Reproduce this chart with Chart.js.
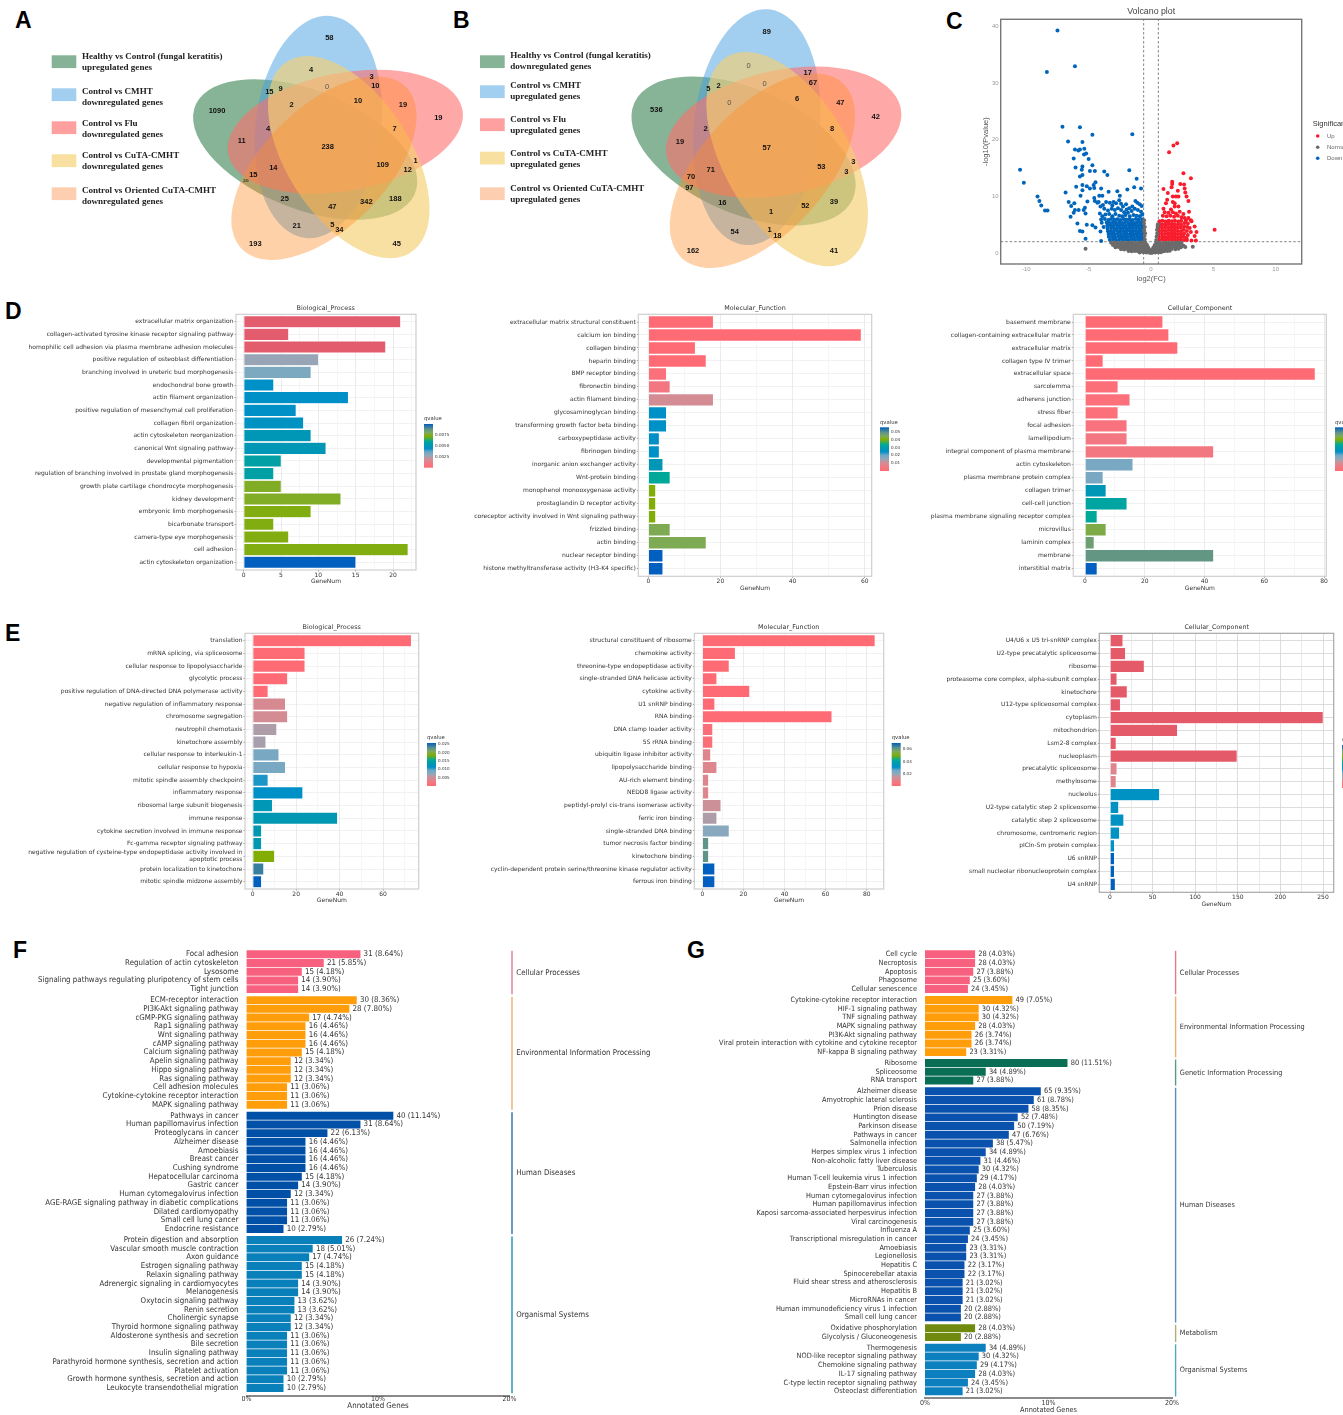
<!DOCTYPE html>
<html>
<head>
<meta charset="utf-8">
<title>Transcriptome figure</title>
<script src="https://cdn.jsdelivr.net/npm/chart.js@4"></script>
<style>
  html, body { margin: 0; background: #fff; }
  #page { position: relative; width: 1343px; height: 1415px; overflow: hidden; }
  #page canvas { position: absolute; }
  .letter { position: absolute; font: bold 23px "Liberation Sans", sans-serif; line-height: 1; color: #000; }
</style>
</head>
<body>
<div id="page">
  <div class="letter" style="left:15px;top:9px">A</div>
  <div class="letter" style="left:453px;top:9px">B</div>
  <div class="letter" style="left:946px;top:10px">C</div>
  <div class="letter" style="left:5px;top:300px">D</div>
  <div class="letter" style="left:5px;top:622px">E</div>
  <div class="letter" style="left:13px;top:939px">F</div>
  <div class="letter" style="left:687px;top:939px">G</div>
</div>
<script>
// Venn panels
const vennAItems = ["Healthy vs Control (fungal keratitis)|upregulated genes", "Control vs CMHT|downregulated genes", "Control vs Flu|downregulated genes", "Control vs CuTA-CMHT|downregulated genes", "Control vs Oriented CuTA-CMHT|downregulated genes"];
const vennBItems = ["Healthy vs Control (fungal keratitis)|downregulated genes", "Control vs CMHT|upregulated genes", "Control vs Flu|upregulated genes", "Control vs CuTA-CMHT|upregulated genes", "Control vs Oriented CuTA-CMHT|upregulated genes"];
const vennACounts = [58, 4, 3, 0, 10, 15, 9, 1090, 2, 10, 19, 19, 4, 7, 11, 238, 109, 1, 12, 14, 15, 231, 25, 47, 342, 188, 21, 5, 34, 193, 45];
const vennBCounts = [89, 0, 17, 67, 0, 5, 2, 536, 0, 6, 47, 42, 2, 8, 19, 57, 53, 3, 3, 71, 70, 97, 16, 1, 52, 39, 54, 1, 18, 162, 41];

// Volcano panel: [log2(FC), -log10(Pvalue)]
const volcanoDown = [
  [-7.5,39.3],[-6.1,33],[-8.35,32],[-7.1,22.3],[-5.7,22.2],[-4.7,20.9],[-1.5,21],[-6.65,19.7],[-5.5,19.6],[-6.1,18.3],[-5.83,18.1],[-5.7,18.3],[-5.35,18.4],[-5.2,17.6],[-5.37,17.4],[-5,16.6],[-6.2,16.7],
  [-4.7,15.5],[-5.5,15.3],[-6.05,15.1],[-5.55,14.7],[-4.9,14.5],[-4.5,14.5],[-3.75,14.4],[-3.5,13.8],[-1.74,14.6],[-1.15,13.1],[-5.5,13.8],[-5.7,13.5],[-10.5,14.7],[-10.2,12.4],
  [-9.1,10],[-8.95,9.2],[-8.8,8.4],[-8.5,7.5],[-8.3,7.5],[-6.85,10.7],[-6.6,9],[-6.4,8.3],[-6.15,8.8],[-6.1,7.6],[-6.2,7.1],[-5.8,7.6],[-6.45,6.4],[-5.9,5.2],[-5.7,3.9],[-5.5,3.8],[-5.25,2.5],
  [-6,11.7],[-5.5,12],[-5.65,10.1],[-5.15,11.8],[-5.5,11.1],[-4.45,12.5],[-4.6,12],[-4.9,11.4],[-4.55,11.5],[-4,11.4],[-3.4,10.8],[-3.9,10.1],[-4.15,10.1],[-2.7,10.9],[-2.5,10.1],[-1.9,11.2],[-1.35,11.6],[-0.8,11.4],
  [-4.55,9.7],[-4.5,9.2],[-5.1,9.1],[-4.2,9],[-5.3,8],[-5.4,7.6],[-5.25,7],[-5.15,5],[-4.7,4.9],[-4.45,4.5],[-4,2.1],[-4.05,3.8],[-3.8,4.6],
  [-4.3,8.9],[-4.05,8.2],[-3.85,8.5],[-3.6,9],[-3.3,8.9],[-3.1,8.4],[-3,9],[-2.8,8.8],[-2.55,9.3],[-2.4,8.7],[-2.25,8.2],[-2,8.6],[-1.95,7.7],[-1.25,9.2],[-1.1,8.9],[-0.9,8.6],[-0.75,8.3],[-1.5,8.2],[-1.75,7.9],
  [-3.75,7.8],[-3.45,7.5],[-3.15,7.8],[-2.9,7.6],[-2.65,7.9],[-2.4,7.6],[-2.15,7.2],[-1.85,7.1],[-1.55,7.4],[-1.3,7.8],[-1.05,7.6],[-0.8,7.3],[-4.1,7],[-3.9,6.5],[-3.65,6.8],[-3.35,6.9],[-3.1,6.5],[-2.85,6.9],[-2.55,6.6],[-2.3,6.5],[-2.05,6.7],[-1.7,6.5],[-1.4,6.7],[-1.15,6.6],[-0.9,6.5],[-0.7,6.8],
  [-4,5.9],[-3.7,6],[-3.42,5.85],[-3.2,6],[-2.95,5.9],[-2.7,5.95],[-2.45,5.85],[-2.2,6],[-1.98,5.9],[-1.72,5.95],[-1.48,5.85],[-1.22,6],[-0.98,5.9],[-0.72,5.95],
  [-3.95,5.35],[-3.55,5.4],[-3.3,5.3],[-3.05,5.45],[-2.82,5.35],[-2.55,5.4],[-2.32,5.3],[-2.08,5.45],[-1.83,5.35],[-1.58,5.4],[-1.33,5.3],[-1.1,5.45],[-0.85,5.35],[-0.66,5.4],
  [-3.5,4.85],[-3.25,4.9],[-3,4.8],[-2.75,4.95],[-2.5,4.85],[-2.25,4.9],[-2,4.8],[-1.75,4.95],[-1.5,4.85],[-1.25,4.9],[-1,4.8],[-0.78,4.95],[-0.64,4.85],
  [-3.48,4.35],[-3.2,4.4],[-2.95,4.3],[-2.7,4.45],[-2.45,4.35],[-2.2,4.4],[-1.95,4.3],[-1.7,4.45],[-1.45,4.35],[-1.2,4.4],[-0.95,4.3],[-0.72,4.4],
  [-3.45,3.85],[-3.22,3.9],[-2.98,3.8],[-2.72,3.95],[-2.48,3.85],[-2.22,3.9],[-1.98,3.8],[-1.72,3.95],[-1.48,3.85],[-1.22,3.9],[-0.98,3.8],[-0.74,3.9],
  [-3.4,3.35],[-3.15,3.4],[-2.9,3.3],[-2.65,3.45],[-2.4,3.35],[-2.15,3.4],[-1.9,3.3],[-1.65,3.45],[-1.4,3.35],[-1.15,3.4],[-0.9,3.3],[-0.68,3.4],
  [-3.38,2.85],[-3.12,2.9],[-2.87,2.8],[-2.62,2.95],[-2.37,2.85],[-2.12,2.9],[-1.87,2.8],[-1.62,2.95],[-1.37,2.85],[-1.12,2.9],[-0.87,2.8],[-0.66,2.9],
  [-3.3,2.35],[-3.05,2.4],[-2.8,2.3],[-2.55,2.45],[-2.3,2.35],[-2.05,2.4],[-1.8,2.3],[-1.55,2.45],[-1.3,2.35],[-1.05,2.4],[-0.8,2.3],[-0.64,2.4]
];
const volcanoUp = [
  [2.1,19.4],[1.8,19],[1.45,17.8],[2.6,14.1],[3.2,13.2],[2.65,12.1],[1.7,12.6],[1.7,12.2],[2.35,12.2],[1,11.3],[2.7,11.4],[1.65,11.6],[2.15,11],[1.35,10.6],[2.75,10.7],[2.85,10],[1.75,10],[2,10],[2.2,10],[1.3,9.4],[3,9.2],[1.2,8.8],[1.75,9],[1.9,8.8],[1,7.8],[2.2,8.2],[1.6,7.7],[1.9,8.2],[2.3,7.3],[3.05,7.3],
  [3,6.2],[3.25,5.6],[3.5,4.7],[3.65,3.7],[3.5,3],[3.6,2.2],[3.25,2.2],[5.1,4.1],[2.8,5.8],[3.2,5.8],[1.1,7.2],[1.4,7.1],[1.75,7.2],[2,7],[2.6,6.9],[0.95,6.6],[1.25,6.5],[1.55,6.6],[1.85,6.4],[2.15,6.6],[2.45,6.3],[2.7,6.2],
  [0.68,5.6],[0.92,5.7],[1.18,5.55],[1.42,5.7],[1.68,5.6],[1.92,5.7],[2.18,5.55],[2.42,5.7],[2.68,5.3],[2.95,5.2],
  [0.66,5.05],[0.9,5.1],[1.15,5],[1.4,5.15],[1.65,5.05],[1.9,5.1],[2.15,5],[2.4,5.1],[2.65,4.7],[2.9,4.6],[3.1,4.4],
  [0.64,4.5],[0.88,4.55],[1.13,4.45],[1.38,4.6],[1.63,4.5],[1.88,4.55],[2.13,4.45],[2.38,4.5],[2.62,4.1],[2.88,3.9],[3.2,3.7],
  [0.65,3.95],[0.9,4],[1.15,3.9],[1.4,4.05],[1.65,3.95],[1.9,4],[2.15,3.9],[2.4,3.85],[2.65,3.45],[2.95,3.2],
  [0.63,3.4],[0.88,3.45],[1.13,3.35],[1.38,3.5],[1.63,3.4],[1.88,3.45],[2.13,3.35],[2.38,3.3],[2.62,2.9],[2.85,2.65],
  [0.64,2.85],[0.9,2.9],[1.15,2.8],[1.4,2.95],[1.65,2.85],[1.9,2.9],[2.15,2.8],[2.4,2.8],
  [0.66,2.35],[0.9,2.4],[1.15,2.3],[1.4,2.45],[1.65,2.35],[1.9,2.4],[2.15,2.3],[2.4,2.35],[2.65,2.3],[2.88,2.3]
];
const volcanoNormal = [
  [-5.25,0.75],[3.35,1.1],
  [-3.2,1.8],[-2.95,1.85],[-2.7,1.75],[-2.45,1.8],[-2.2,1.85],[-1.95,1.75],[-1.7,1.8],[-1.45,1.85],[-1.2,1.75],[-0.95,1.8],[-0.7,1.85],[-0.45,1.8],[0.42,1.8],[0.7,1.85],[0.95,1.75],[1.2,1.8],[1.45,1.85],[1.7,1.75],[1.95,1.8],[2.2,1.85],[2.45,1.75],
  [-3.05,1.4],[-2.8,1.35],[-2.55,1.45],[-2.3,1.4],[-2.05,1.35],[-1.8,1.45],[-1.55,1.4],[-1.3,1.35],[-1.05,1.45],[-0.8,1.4],[-0.55,1.35],[-0.32,1.4],[0.3,1.4],[0.55,1.45],[0.8,1.35],[1.05,1.4],[1.3,1.45],[1.55,1.35],[1.8,1.4],[2.05,1.45],[2.3,1.35],[2.6,1.3],
  [-2.85,1],[-2.6,1.05],[-2.35,0.95],[-2.1,1],[-1.85,1.05],[-1.6,0.95],[-1.35,1],[-1.1,1.05],[-0.85,0.95],[-0.6,1],[-0.38,1.05],[-0.22,0.95],[0.2,1],[0.4,1.05],[0.65,0.95],[0.9,1],[1.15,1.05],[1.4,0.95],[1.65,1],[1.9,1.05],[2.15,0.95],[2.4,1],[2.75,1.05],
  [-2.4,0.65],[-2.15,0.6],[-1.9,0.7],[-1.65,0.6],[-1.4,0.65],[-1.15,0.6],[-0.9,0.7],[-0.65,0.6],[-0.4,0.65],[-0.14,0.6],[0.14,0.65],[0.4,0.6],[0.65,0.7],[0.9,0.6],[1.15,0.65],[1.4,0.6],[1.65,0.7],[1.95,0.65],[2.2,0.75],
  [-1.8,0.35],[-1.55,0.3],[-1.3,0.35],[-1.05,0.3],[-0.8,0.35],[-0.55,0.3],[-0.3,0.35],[-0.08,0.3],[0.08,0.3],[0.3,0.35],[0.55,0.3],[0.8,0.35],[1.05,0.3],[1.3,0.35],[1.5,0.4],
  [-0.9,0.1],[-0.6,0.12],[-0.35,0.08],[-0.1,0.05],[0,0.03],[0.1,0.05],[0.35,0.08],[0.6,0.12],[0.8,0.15],
  [-0.5,2.4],[-0.52,3],[-0.48,3.5],[-0.55,4],[-0.5,4.6],[-0.57,5.2],[-0.55,5.8],[0.42,2.3],[0.45,2.9],[0.5,3.5],[0.48,4.1],[0.53,4.7],[0.55,5.1]
];
const volcanoXTicks = [-10, -5, 0, 5, 10];
const volcanoYTicks = [0, 10, 20, 30, 40];

// GO panel D, qvalue is the position on the colour bar (0 bottom, 1 top)
const dBpLabels = ["extracellular matrix organization", "collagen-activated tyrosine kinase receptor signaling pathway", "homophilic cell adhesion via plasma membrane adhesion molecules", "positive regulation of osteoblast differentiation", "branching involved in ureteric bud morphogenesis", "endochondral bone growth", "actin filament organization", "positive regulation of mesenchymal cell proliferation", "collagen fibril organization", "actin cytoskeleton reorganization", "canonical Wnt signaling pathway", "developmental pigmentation", "regulation of branching involved in prostate gland morphogenesis", "growth plate cartilage chondrocyte morphogenesis", "kidney development", "embryonic limb morphogenesis", "bicarbonate transport", "camera-type eye morphogenesis", "cell adhesion", "actin cytoskeleton organization"];
const dBpValues = [21, 6, 19, 10, 9, 4, 14, 7, 8, 9, 11, 5, 4, 5, 13, 9, 4, 6, 22, 15];
const dBpQ = [0, 0, 0, 0.27, 0.33, 0.44, 0.44, 0.44, 0.46, 0.5, 0.5, 0.56, 0.56, 0.75, 0.75, 0.73, 0.73, 0.73, 0.73, 1];
const dMfLabels = ["extracellular matrix structural constituent", "calcium ion binding", "collagen binding", "heparin binding", "BMP receptor binding", "fibronectin binding", "actin filament binding", "glycosaminoglycan binding", "transforming growth factor beta binding", "carboxypeptidase activity", "fibrinogen binding", "inorganic anion exchanger activity", "Wnt-protein binding", "monophenol monooxygenase activity", "prostaglandin D receptor activity", "coreceptor activity involved in Wnt signaling pathway", "frizzled binding", "actin binding", "nuclear receptor binding", "histone methyltransferase activity (H3-K4 specific)"];
const dMfValues = [18, 59, 13, 16, 5, 6, 18, 5, 5, 3, 3, 4, 6, 2, 2, 2, 6, 16, 4, 4];
const dMfQ = [0, 0, 0, 0, 0.03, 0.08, 0.18, 0.44, 0.44, 0.44, 0.44, 0.5, 0.6, 0.72, 0.72, 0.72, 0.79, 0.79, 1, 1];
const dCcLabels = ["basement membrane", "collagen-containing extracellular matrix", "extracellular matrix", "collagen type IV trimer", "extracellular space", "sarcolemma", "adherens junction", "stress fiber", "focal adhesion", "lamellipodium", "integral component of plasma membrane", "actin cytoskeleton", "plasma membrane protein complex", "collagen trimer", "cell-cell junction", "plasma membrane signaling receptor complex", "microvillus", "laminin complex", "membrane", "interstitial matrix"];
const dCcValues = [26, 28, 31, 6, 77, 11, 15, 11, 14, 14, 43, 16, 6, 7, 14, 4, 7, 3, 43, 4];
const dCcQ = [0, 0, 0, 0, 0, 0.02, 0.03, 0.03, 0.05, 0.08, 0.08, 0.34, 0.34, 0.5, 0.58, 0.6, 0.78, 0.84, 0.87, 1];

// GO panel E
const eBpLabels = ["translation", "mRNA splicing, via spliceosome", "cellular response to lipopolysaccharide", "glycolytic process", "positive regulation of DNA-directed DNA polymerase activity", "negative regulation of inflammatory response", "chromosome segregation", "neutrophil chemotaxis", "kinetochore assembly", "cellular response to interleukin-1", "cellular response to hypoxia", "mitotic spindle assembly checkpoint", "inflammatory response", "ribosomal large subunit biogenesis", "immune response", "cytokine secretion involved in immune response", "Fc-gamma receptor signaling pathway", ["negative regulation of cysteine-type endopeptidase activity involved in", "apoptotic process"], "protein localization to kinetochore", "mitotic spindle midzone assembly"];
const eBpValues = [73, 24, 24, 16, 7, 15, 16, 11, 6, 12, 15, 7, 23, 9, 39, 4, 4, 10, 5, 4];
const eBpQ = [0, 0, 0, 0, 0, 0.17, 0.18, 0.24, 0.25, 0.34, 0.34, 0.42, 0.44, 0.5, 0.51, 0.52, 0.52, 0.72, 0.93, 1];
const eMfLabels = ["structural constituent of ribosome", "chemokine activity", "threonine-type endopeptidase activity", "single-stranded DNA helicase activity", "cytokine activity", "U1 snRNP binding", "RNA binding", "DNA clamp loader activity", "5S rRNA binding", "ubiquitin ligase inhibitor activity", "lipopolysaccharide binding", "AU-rich element binding", "NEDD8 ligase activity", "peptidyl-prolyl cis-trans isomerase activity", "ferric iron binding", "single-stranded DNA binding", "tumor necrosis factor binding", "kinetochore binding", "cyclin-dependent protein serine/threonine kinase regulator activity", "ferrous iron binding"];
const eMfValues = [84, 16, 13, 7, 23, 6, 63, 5, 5, 4, 7, 3, 3, 9, 7, 13, 3, 3, 6, 6];
const eMfQ = [0, 0, 0, 0, 0, 0, 0, 0.02, 0.02, 0.15, 0.15, 0.15, 0.15, 0.2, 0.24, 0.3, 0.88, 0.88, 1, 1];
const eCcLabels = ["U4/U6 x U5 tri-snRNP complex", "U2-type precatalytic spliceosome", "ribosome", "proteasome core complex, alpha-subunit complex", "kinetochore", "U12-type spliceosomal complex", "cytoplasm", "mitochondrion", "Lsm2-8 complex", "nucleoplasm", "precatalytic spliceosome", "methylosome", "nucleolus", "U2-type catalytic step 2 spliceosome", "catalytic step 2 spliceosome", "chromosome, centromeric region", "pICln-Sm protein complex", "U6 snRNP", "small nucleolar ribonucleoprotein complex", "U4 snRNP"];
const eCcValues = [15, 18, 40, 8, 20, 12, 250, 79, 7, 149, 8, 7, 58, 10, 16, 11, 5, 5, 5, 6];
const eCcQ = [0, 0, 0, 0, 0, 0, 0, 0, 0, 0, 0.15, 0.15, 0.46, 0.46, 0.46, 0.46, 0.45, 1, 1, 1];

// KEGG panel F
const fGroups = ["Cellular Processes", "Environmental Information Processing", "Human Diseases", "Organismal Systems"];
const fGroupSizes = [5, 13, 14, 18];
const fLabels = ["Focal adhesion", "Regulation of actin cytoskeleton", "Lysosome", "Signaling pathways regulating pluripotency of stem cells", "Tight junction",
  "ECM-receptor interaction", "PI3K-Akt signaling pathway", "cGMP-PKG signaling pathway", "Rap1 signaling pathway", "Wnt signaling pathway", "cAMP signaling pathway", "Calcium signaling pathway", "Apelin signaling pathway", "Hippo signaling pathway", "Ras signaling pathway", "Cell adhesion molecules", "Cytokine-cytokine receptor interaction", "MAPK signaling pathway",
  "Pathways in cancer", "Human papillomavirus infection", "Proteoglycans in cancer", "Alzheimer disease", "Amoebiasis", "Breast cancer", "Cushing syndrome", "Hepatocellular carcinoma", "Gastric cancer", "Human cytomegalovirus infection", "AGE-RAGE signaling pathway in diabetic complications", "Dilated cardiomyopathy", "Small cell lung cancer", "Endocrine resistance",
  "Protein digestion and absorption", "Vascular smooth muscle contraction", "Axon guidance", "Estrogen signaling pathway", "Relaxin signaling pathway", "Adrenergic signaling in cardiomyocytes", "Melanogenesis", "Oxytocin signaling pathway", "Renin secretion", "Cholinergic synapse", "Thyroid hormone signaling pathway", "Aldosterone synthesis and secretion", "Bile secretion", "Insulin signaling pathway", "Parathyroid hormone synthesis, secretion and action", "Platelet activation", "Growth hormone synthesis, secretion and action", "Leukocyte transendothelial migration"];
const fCounts = [31, 21, 15, 14, 14, 30, 28, 17, 16, 16, 16, 15, 12, 12, 12, 11, 11, 11, 40, 31, 22, 16, 16, 16, 16, 15, 14, 12, 11, 11, 11, 10, 26, 18, 17, 15, 15, 14, 14, 13, 13, 12, 12, 11, 11, 11, 11, 11, 10, 10];
const fPercents = [8.64, 5.85, 4.18, 3.90, 3.90, 8.36, 7.80, 4.74, 4.46, 4.46, 4.46, 4.18, 3.34, 3.34, 3.34, 3.06, 3.06, 3.06, 11.14, 8.64, 6.13, 4.46, 4.46, 4.46, 4.46, 4.18, 3.90, 3.34, 3.06, 3.06, 3.06, 2.79, 7.24, 5.01, 4.74, 4.18, 4.18, 3.90, 3.90, 3.62, 3.62, 3.34, 3.34, 3.06, 3.06, 3.06, 3.06, 3.06, 2.79, 2.79];

// KEGG panel G
const gGroups = ["Cellular Processes", "Environmental Information Processing", "Genetic Information Processing", "Human Diseases", "Metabolism", "Organismal Systems"];
const gGroupSizes = [5, 7, 3, 27, 2, 6];
const gLabels = ["Cell cycle", "Necroptosis", "Apoptosis", "Phagosome", "Cellular senescence",
  "Cytokine-cytokine receptor interaction", "HIF-1 signaling pathway", "TNF signaling pathway", "MAPK signaling pathway", "PI3K-Akt signaling pathway", "Viral protein interaction with cytokine and cytokine receptor", "NF-kappa B signaling pathway",
  "Ribosome", "Spliceosome", "RNA transport",
  "Alzheimer disease", "Amyotrophic lateral sclerosis", "Prion disease", "Huntington disease", "Parkinson disease", "Pathways in cancer", "Salmonella infection", "Herpes simplex virus 1 infection", "Non-alcoholic fatty liver disease", "Tuberculosis", "Human T-cell leukemia virus 1 infection", "Epstein-Barr virus infection", "Human cytomegalovirus infection", "Human papillomavirus infection", "Kaposi sarcoma-associated herpesvirus infection", "Viral carcinogenesis", "Influenza A", "Transcriptional misregulation in cancer", "Amoebiasis", "Legionellosis", "Hepatitis C", "Spinocerebellar ataxia", "Fluid shear stress and atherosclerosis", "Hepatitis B", "MicroRNAs in cancer", "Human immunodeficiency virus 1 infection", "Small cell lung cancer",
  "Oxidative phosphorylation", "Glycolysis / Gluconeogenesis",
  "Thermogenesis", "NOD-like receptor signaling pathway", "Chemokine signaling pathway", "IL-17 signaling pathway", "C-type lectin receptor signaling pathway", "Osteoclast differentiation"];
const gCounts = [28, 28, 27, 25, 24, 49, 30, 30, 28, 26, 26, 23, 80, 34, 27, 65, 61, 58, 52, 50, 47, 38, 34, 31, 30, 29, 28, 27, 27, 27, 27, 25, 24, 23, 23, 22, 22, 21, 21, 21, 20, 20, 28, 20, 34, 30, 29, 28, 24, 21];
const gPercents = [4.03, 4.03, 3.88, 3.60, 3.45, 7.05, 4.32, 4.32, 4.03, 3.74, 3.74, 3.31, 11.51, 4.89, 3.88, 9.35, 8.78, 8.35, 7.48, 7.19, 6.76, 5.47, 4.89, 4.46, 4.32, 4.17, 4.03, 3.88, 3.88, 3.88, 3.88, 3.60, 3.45, 3.31, 3.31, 3.17, 3.17, 3.02, 3.02, 3.02, 2.88, 2.88, 4.03, 2.88, 4.89, 4.32, 4.17, 4.03, 3.45, 3.02];

const DEJAVU = "'DejaVu Sans'";
const NARROW = "'DejaVu Sans Condensed','DejaVu Sans'";
const page = document.getElementById("page");
Chart.defaults.animation = false;
Chart.defaults.responsive = false;
Chart.defaults.devicePixelRatio = 1;
Chart.defaults.plugins.legend.display = false;
Chart.defaults.plugins.tooltip.enabled = false;

function addCanvas(x, y, w, h) {
  const c = document.createElement("canvas");
  c.width = w;
  c.height = h;
  c.style.left = x + "px";
  c.style.top = y + "px";
  c.style.width = w + "px";
  c.style.height = h + "px";
  page.appendChild(c);
  return c.getContext("2d");
}

function drawText(ctx, text, x, y, font, color, align = "left") {
  ctx.font = font;
  ctx.fillStyle = color;
  ctx.textAlign = align;
  ctx.textBaseline = "middle";
  ctx.fillText(text, x, y);
}

// Colour bar used by the GO panels
const qvalueStops = [[0, "#ff6b75"], [0.1, "#f07a84"], [0.2, "#cc9098"], [0.28, "#90a8ba"], [0.36, "#70a8c4"], [0.44, "#0090c8"], [0.52, "#0098b0"], [0.6, "#00a89a"], [0.72, "#82ad05"], [0.8, "#7caa5e"], [0.88, "#5f9488"], [1, "#005fbf"]];

function hexToRgb(hex) {
  return [1, 3, 5].map(i => parseInt(hex.slice(i, i + 2), 16));
}

function qColor(t, low) {
  const stops = qvalueStops.map((s, i) => (i === 0 && low ? [0, low] : s));
  let i = 0;
  while (i < stops.length - 2 && t > stops[i + 1][0]) i++;
  const f = (t - stops[i][0]) / (stops[i + 1][0] - stops[i][0]);
  const a = hexToRgb(stops[i][1]);
  const b = hexToRgb(stops[i + 1][1]);
  return `rgb(${a.map((v, k) => Math.round(v + (b[k] - v) * f)).join(",")})`;
}

function createGoChart(cfg) {
  const [left, right] = cfg.canvasX;
  const [boxL, boxT, boxR, boxB] = cfg.box;
  const top = Math.floor(boxT - 14);
  const bottom = Math.ceil(cfg.xLabelY + 3.6);
  const rowPitch = (cfg.rows[1] - cfg.rows[0]) / (cfg.values.length - 1);
  const unit = (cfg.xAt[1] - cfg.xAt[0]) / cfg.xAt[2];
  const ticks = [];
  for (let v = 0; v <= (boxR - cfg.xAt[0]) / unit; v += cfg.step / 2) ticks.push(v);

  const frame = {
    id: "frame",
    afterDraw(chart) {
      const { ctx, chartArea: a } = chart;
      ctx.save();
      ctx.strokeStyle = cfg.boxColor || "#cfcfcf";
      ctx.lineWidth = 1.2;
      ctx.strokeRect(a.left, a.top, a.right - a.left, a.bottom - a.top);
      drawText(ctx, cfg.title, cfg.titleX - left, boxT - 6.2 - top, `6.4px ${DEJAVU}`, "#333", "center");
      const lg = cfg.legend;
      const gx = lg.x - left;
      const grad = ctx.createLinearGradient(0, lg.y[0] - top, 0, lg.y[1] - top);
      qvalueStops.forEach(s => grad.addColorStop(1 - s[0], s[1]));
      ctx.fillStyle = grad;
      ctx.fillRect(gx, lg.y[0] - top, 9, lg.y[1] - lg.y[0]);
      drawText(ctx, "qvalue", gx, lg.y[0] - 5 - top, `5.3px ${DEJAVU}`, "#333");
      lg.labels.forEach((t, i) => drawText(ctx, t, gx + 11, lg.labelY[i] - top, `4.1px ${DEJAVU}`, "#333"));
      ctx.restore();
    }
  };

  return new Chart(addCanvas(left, top, right - left, bottom - top), {
    type: "bar",
    data: {
      datasets: [{
        data: cfg.values.map((v, i) => ({ x: v, y: i })),
        backgroundColor: cfg.qvalue.map(t => qColor(t, cfg.low)),
        borderColor: "rgba(255,255,255,0.7)",
        borderWidth: 0.6,
        borderSkipped: false,
        barThickness: rowPitch * 0.92
      }]
    },
    options: {
      indexAxis: "y",
      layout: { padding: { top: boxT - top, right: right - boxR } },
      scales: {
        y: {
          type: "linear",
          reverse: true,
          offset: false,
          bounds: "data",
          min: (boxT - cfg.rows[0]) / rowPitch,
          max: (boxB - cfg.rows[0]) / rowPitch,
          afterBuildTicks: s => { s.ticks = cfg.labels.map((_, i) => ({ value: i })); },
          afterFit: s => { s.width = boxL - left; },
          grid: { offset: false, color: cfg.gridColor || "#efefef", lineWidth: 0.8, tickColor: "#555", tickLength: 1.5, tickWidth: 0.6 },
          border: { display: false },
          ticks: { autoSkip: false, padding: 1, color: "#333", font: { family: DEJAVU, size: 6 }, callback: (v, i) => cfg.labels[i] }
        },
        x: {
          type: "linear",
          bounds: "data",
          min: (boxL - cfg.xAt[0]) / unit,
          max: (boxR - cfg.xAt[0]) / unit,
          afterBuildTicks: s => { s.ticks = ticks.map(v => ({ value: v })); },
          afterFit: s => { s.height = bottom - boxB; },
          grid: {
            color: c => (c.tick && c.tick.value % cfg.step === 0 ? (cfg.gridColor || "#e6e6e6") : (cfg.minorColor || "#f4f4f4")),
            tickColor: c => (c.tick && c.tick.value % cfg.step === 0 ? "#555" : "transparent"),
            lineWidth: 0.8, tickLength: 1.5, tickWidth: 0.6
          },
          border: { display: false },
          title: { display: true, text: "GeneNum", color: "#333", font: { family: DEJAVU, size: 6 }, padding: { top: 0, bottom: bottom - cfg.xLabelY - 3.6 } },
          ticks: { autoSkip: false, maxRotation: 0, padding: 0.5, color: "#333", font: { family: DEJAVU, size: 6 }, callback: v => (v % cfg.step === 0 ? v : "") }
        }
      }
    },
    plugins: [frame]
  });
}

function createKeggChart(cfg) {
  const [left, right] = cfg.canvasX;
  const plotTop = cfg.rows[0] - 8;
  const top = Math.floor(plotTop - 16);
  const bottom = 1415;
  let g = 0;
  let seen = 0;
  const rowGroup = cfg.labels.map(() => {
    if (seen === cfg.groupSizes[g]) { g++; seen = 0; }
    seen++;
    return g;
  });
  const rowPos = rowGroup.map((grp, i) => i + grp * cfg.gap);
  const unit = (cfg.rows[1] - cfg.rows[0]) / rowPos[rowPos.length - 1];

  const extras = {
    id: "extras",
    afterDatasetsDraw(chart) {
      const { ctx, scales: { y } } = chart;
      const meta = chart.getDatasetMeta(0);
      ctx.save();
      meta.data.forEach((bar, i) => {
        drawText(ctx, `${cfg.counts[i]} (${cfg.percents[i].toFixed(2)}%)`, bar.x + 3.5, bar.y, `${cfg.valueSize}px ${NARROW}`, "#333");
      });
      let first = 0;
      cfg.groups.forEach((name, k) => {
        const last = first + cfg.groupSizes[k] - 1;
        const y0 = y.getPixelForValue(rowPos[first]) - 3.5;
        const y1 = y.getPixelForValue(rowPos[last]) + 5.2;
        ctx.strokeStyle = cfg.bracketColors[k];
        ctx.lineWidth = 1.4;
        ctx.beginPath();
        ctx.moveTo(cfg.bracketX - left, y0);
        ctx.lineTo(cfg.bracketX - left, y1);
        ctx.stroke();
        drawText(ctx, name, cfg.bracketX + 4.2 - left, (y.getPixelForValue(rowPos[first]) + y.getPixelForValue(rowPos[last])) / 2 + 1, `${cfg.fontSize}px ${NARROW}`, "#333");
        first = last + 1;
      });
      ctx.restore();
    }
  };

  return new Chart(addCanvas(left, top, right - left, bottom - top), {
    type: "bar",
    data: {
      datasets: [{
        data: cfg.percents.map((v, i) => ({ x: v, y: rowPos[i] })),
        backgroundColor: rowGroup.map(k => cfg.barColors[k]),
        borderWidth: 0,
        barThickness: 7.3
      }]
    },
    options: {
      indexAxis: "y",
      layout: { padding: { top: plotTop - top, right: right - cfg.x20 } },
      scales: {
        y: {
          type: "linear",
          reverse: true,
          offset: false,
          bounds: "data",
          min: (plotTop - cfg.rows[0]) / unit,
          max: (cfg.axisY - cfg.rows[0]) / unit,
          afterBuildTicks: s => { s.ticks = rowPos.map(v => ({ value: v })); },
          afterFit: s => { s.width = cfg.x0 - left; },
          grid: { display: false, drawTicks: false, offset: false },
          border: { display: false },
          ticks: { autoSkip: false, padding: 8, color: "#333", font: { family: NARROW, size: cfg.fontSize }, callback: (v, i) => cfg.labels[i] }
        },
        x: {
          type: "linear",
          bounds: "data",
          min: 0,
          max: 20,
          afterBuildTicks: s => { s.ticks = [0, 10, 20].map(v => ({ value: v })); },
          afterFit: s => { s.height = bottom - cfg.axisY; },
          grid: { display: false, drawTicks: false },
          border: { display: true, color: "#8a8a8a", width: 2 },
          title: { display: true, text: "Annotated Genes", color: "#333", font: { family: NARROW, size: cfg.fontSize }, padding: { top: 0, bottom: bottom - cfg.xLabelY - 4.6 } },
          ticks: { maxRotation: 0, padding: cfg.tickPad, color: "#333", font: { family: NARROW, size: 7 }, callback: v => v + "%" }
        }
      }
    },
    plugins: [extras]
  });
}

// Five rotated petals with the region counts on top
function createVenn(cfg) {
  const [cx0, cy0, w, h] = cfg.canvas;
  const petals = {
    id: "petals",
    beforeDatasetsDraw(chart) {
      const { ctx, scales: { x, y } } = chart;
      ctx.save();
      cfg.petalColors.forEach((color, k) => {
        ctx.save();
        ctx.translate(x.getPixelForValue(cfg.center[0]), y.getPixelForValue(cfg.center[1]));
        ctx.scale(1.07, cfg.size);
        ctx.rotate((k - 1) * 72 * Math.PI / 180);
        ctx.beginPath();
        ctx.ellipse(-9.3, -19.7, 58.7, 111.7, 6 * Math.PI / 180, 0, Math.PI * 2);
        ctx.fillStyle = color;
        ctx.fill();
        ctx.restore();
      });
      cfg.items.forEach((item, k) => {
        const s = cfg.swatchY[k];
        ctx.fillStyle = cfg.swatchColors[k];
        ctx.fillRect(x.getPixelForValue(cfg.swatchX[0]), y.getPixelForValue(s), cfg.swatchX[1] - cfg.swatchX[0], 12.8);
        item.split("|").forEach((line, n) => {
          drawText(ctx, line, x.getPixelForValue(cfg.textX), y.getPixelForValue(cfg.textY[k] + n * 11), `bold 9.05px 'Liberation Serif'`, "#222");
        });
      });
      ctx.restore();
    },
    afterDatasetsDraw(chart) {
      const { ctx } = chart;
      const meta = chart.getDatasetMeta(0);
      ctx.save();
      meta.data.forEach((pt, i) => {
        const small = cfg.counts[i] === 231;
        const font = small ? "bold 3.6px 'Liberation Serif'" : `${cfg.counts[i] === 0 ? "" : "bold "}7.5px 'Liberation Sans'`;
        drawText(ctx, String(cfg.counts[i]), pt.x, pt.y, font, cfg.counts[i] === 0 ? "#555" : "#111", "center");
      });
      ctx.restore();
    }
  };
  return new Chart(addCanvas(cx0, cy0, w, h), {
    type: "scatter",
    data: { datasets: [{ data: cfg.anchors.map(p => ({ x: cfg.offsetX + p[0] / 3, y: p[1] / 3 })), pointRadius: 0 }] },
    options: {
      scales: {
        x: { type: "linear", display: false, min: cx0, max: cx0 + w },
        y: { type: "linear", display: false, reverse: true, min: cy0, max: cy0 + h }
      }
    },
    plugins: [petals]
  });
}

const petalColors = ["rgba(15,105,45,0.5)", "rgba(70,160,225,0.5)", "rgba(255,110,110,0.6)", "rgba(244,208,113,0.65)", "rgba(255,140,40,0.4)"];
const swatchColors = ["#86b396", "#a2cff0", "#ffa0a0", "#f8e0a0", "#fdcfb0"];

createVenn({
  canvas: [40, 0, 428, 290], center: [328.3, 146.7], size: 1, offsetX: 0, counts: vennACounts, items: vennAItems, petalColors, swatchColors,
  swatchX: [51.7, 76.3], swatchY: [55.3, 88.3, 121.3, 154.3, 187.3], textX: 82, textY: [56.7, 92, 124, 155.3, 190.7],
  anchors: [[988,115],[933,209],[1115,232],[981,261],[1126,257],[808,275],[842,266],[651,333],[875,315],[1074,302],[1209,315],[1315,354],[804,387],[1184,387],[725,423],[983,442],[1148,496],[1247,482],[1223,510],[820,505],[760,526],[738,544],[854,596],[997,622],[1099,605],[1186,596],[890,678],[997,674],[1018,690],[766,732],[1190,732]]
});
createVenn({
  canvas: [470, 0, 440, 290], center: [766.7, 148], size: 1.06, offsetX: 450, counts: vennBCounts, items: vennBItems, petalColors, swatchColors,
  swatchX: [480, 504.7], swatchY: [55.3, 85.3, 118.3, 151.7, 187.3], textX: 510.3, textY: [55.7, 86, 120, 153.3, 188.3],
  anchors: [[950,97],[896,198],[1073,220],[1089,248],[944,252],[775,267],[806,258],[619,329],[838,310],[1041,296],[1171,309],[1277,351],[767,387],[1146,386],[690,425],[950,444],[1114,502],[1210,486],[1189,516],[782,511],[723,532],[718,565],[817,608],[963,637],[1066,618],[1152,607],[854,695],[959,690],[982,708],[729,752],[1152,752]]
});

// Volcano plot
function createVolcano() {
  const left = 981, top = 0, right = 1343, bottom = 283;
  const box = { l: 1000.7, t: 19.3, r: 1301.7, b: 264 };
  const xMin = (box.l - 1151) / 12.47, xMax = (box.r - 1151) / 12.47;
  const yMin = (253 - box.b) / 5.66, yMax = (253 - box.t) / 5.66;
  const fcCut = 0.59, pCut = 2;
  const guide = pts => ({ type: "line", data: pts, borderColor: "#777", borderWidth: 0.9, borderDash: [2.5, 2], pointRadius: 0 });
  const dots = (pts, color) => ({ data: pts.map(p => ({ x: p[0], y: p[1] })), backgroundColor: color, borderWidth: 0, pointRadius: 2 });

  const frame = {
    id: "frame",
    afterDraw(chart) {
      const { ctx, chartArea: a } = chart;
      ctx.save();
      ctx.strokeStyle = "#777";
      ctx.lineWidth = 1.4;
      ctx.strokeRect(a.left, a.top, a.right - a.left, a.bottom - a.top);
      drawText(ctx, "Volcano plot", (a.left + a.right) / 2, 11.3, "8.8px 'Liberation Sans'", "#444", "center");
      drawText(ctx, "Significance", 1312.7 - left, 123.7, "7.5px 'Liberation Sans'", "#333");
      [["Up", "#f81c2c", 136], ["Normal", "#6b6b6b", 147.3], ["Down", "#0066bb", 158.3]].forEach(([name, color, y]) => {
        ctx.fillStyle = color;
        ctx.beginPath();
        ctx.arc(1317.7 - left, y, 1.8, 0, Math.PI * 2);
        ctx.fill();
        drawText(ctx, name, 1327 - left, y, "6px 'Liberation Sans'", "#666");
      });
      ctx.restore();
    }
  };

  return new Chart(addCanvas(left, top, right - left, bottom - top), {
    type: "scatter",
    data: {
      datasets: [
        dots(volcanoNormal, "#6b6b6b"),
        dots(volcanoDown, "#0066bb"),
        dots(volcanoUp, "#f81c2c"),
        guide([{ x: -fcCut, y: yMin }, { x: -fcCut, y: yMax }]),
        guide([{ x: fcCut, y: yMin }, { x: fcCut, y: yMax }]),
        guide([{ x: xMin, y: pCut }, { x: xMax, y: pCut }])
      ]
    },
    options: {
      layout: { padding: { top: box.t, right: right - box.r } },
      scales: {
        x: {
          type: "linear", bounds: "data", min: xMin, max: xMax,
          afterBuildTicks: s => { s.ticks = volcanoXTicks.map(v => ({ value: v })); },
          afterFit: s => { s.height = bottom - box.b; },
          grid: { display: false, tickColor: "#777", tickLength: 1.5 },
          border: { display: false },
          title: { display: true, text: "log2(FC)", color: "#555", font: { family: "'Liberation Sans'", size: 7.5 }, padding: 0 },
          ticks: { maxRotation: 0, padding: 0.5, color: "#999", font: { family: "'Liberation Sans'", size: 6 } }
        },
        y: {
          type: "linear", bounds: "data", min: yMin, max: yMax,
          afterBuildTicks: s => { s.ticks = volcanoYTicks.map(v => ({ value: v })); },
          afterFit: s => { s.width = box.l - left; },
          grid: { display: false, tickColor: "#777", tickLength: 1.5 },
          border: { display: false },
          title: { display: true, text: "-log10(Pvalue)", color: "#555", font: { family: "'Liberation Sans'", size: 7.5 }, padding: 0 },
          ticks: { padding: 0.5, color: "#999", font: { family: "'Liberation Sans'", size: 6 } }
        }
      }
    },
    plugins: [frame]
  });
}
createVolcano();

// GO bars, panel D
createGoChart({
  title: "Biological_Process", titleX: 325.7, labels: dBpLabels, values: dBpValues, qvalue: dBpQ, low: "#e25c6e",
  canvasX: [25, 470], box: [236, 314.3, 416, 570], rows: [321.7, 562.3], xAt: [243.7, 393, 20], step: 5, xLabelY: 581.7,
  legend: { x: 424, y: [424, 467.7], labels: ["0.0075", "0.0050", "0.0025"], labelY: [435, 445.7, 456.5] }
});
createGoChart({
  title: "Molecular_Function", titleX: 755, labels: dMfLabels, values: dMfValues, qvalue: dMfQ,
  canvasX: [470, 925], box: [638.3, 314.3, 871.7, 576.3], rows: [322, 568.7], xAt: [648.3, 864.7, 60], step: 20, xLabelY: 588,
  legend: { x: 880, y: [427.3, 471], labels: ["0.05", "0.04", "0.03", "0.02", "0.01"], labelY: [432, 439.7, 447.7, 455.3, 463.3] }
});
createGoChart({
  title: "Cellular_Component", titleX: 1200, labels: dCcLabels, values: dCcValues, qvalue: dCcQ,
  canvasX: [925, 1343], box: [1073.3, 314.3, 1326.3, 576.3], rows: [322, 568.7], xAt: [1085, 1324, 80], step: 20, xLabelY: 588,
  legend: { x: 1335, y: [427.3, 471], labels: [], labelY: [] }
});

// GO bars, panel E
createGoChart({
  title: "Biological_Process", titleX: 331.7, labels: eBpLabels, values: eBpValues, qvalue: eBpQ,
  canvasX: [25, 460], box: [245, 633.3, 418.7, 889], rows: [640.7, 881.7], xAt: [252.7, 383, 60], step: 20, xLabelY: 900.7,
  legend: { x: 427, y: [743, 786], labels: ["0.025", "0.020", "0.015", "0.010", "0.005"], labelY: [744, 752.5, 761, 769.3, 778] }
});
createGoChart({
  title: "Molecular_Function", titleX: 788.7, labels: eMfLabels, values: eMfValues, qvalue: eMfQ,
  canvasX: [480, 925], box: [694.3, 633.3, 883.7, 889], rows: [640.7, 881.7], xAt: [702.3, 866.7, 80], step: 20, xLabelY: 900.7,
  legend: { x: 891.7, y: [743, 786], labels: ["0.06", "0.04", "0.02"], labelY: [749, 761.5, 774] }
});
createGoChart({
  title: "Cellular_Component", titleX: 1216.7, labels: eCcLabels, values: eCcValues, qvalue: eCcQ, low: "#e55a68",
  boxColor: "#a8a8a8", gridColor: "#d4d4d4", minorColor: "#e4e4e4",
  canvasX: [925, 1343], box: [1099.3, 633.3, 1333.7, 892.3], rows: [640.7, 884.3], xAt: [1110, 1323, 250], step: 50, xLabelY: 904,
  legend: { x: 1342, y: [745, 788], labels: [], labelY: [] }
});

// KEGG bars
createKeggChart({
  canvasX: [0, 680], labels: fLabels, counts: fCounts, percents: fPercents, groups: fGroups, groupSizes: fGroupSizes, gap: 0.265,
  rows: [954.3, 1388], axisY: 1396, x0: 246.5, x20: 509.5, bracketX: 512, xLabelY: 1406.3, tickPad: -1, fontSize: 7.85, valueSize: 7.9,
  barColors: ["#f8607f", "#ff9d0a", "#0050a8", "#0a80bb"],
  bracketColors: ["#e87890", "#e8b070", "#2a70a8", "#2090b8"]
});
createKeggChart({
  canvasX: [719, 1343], labels: gLabels, counts: gCounts, percents: gPercents, groups: gGroups, groupSizes: gGroupSizes, gap: 0.25,
  rows: [954.3, 1391.3], axisY: 1398.3, x0: 925, x20: 1172, bracketX: 1175.6, xLabelY: 1409.7, tickPad: 0.5, fontSize: 7.3, valueSize: 7.4,
  barColors: ["#f8607f", "#ff9d0a", "#0a6e55", "#0a52ad", "#6f8a0e", "#0c7fbe"],
  bracketColors: ["#e87890", "#e8b070", "#5a9a88", "#5a90c0", "#b0b070", "#50a8c0"]
});
</script>
</body>
</html>
